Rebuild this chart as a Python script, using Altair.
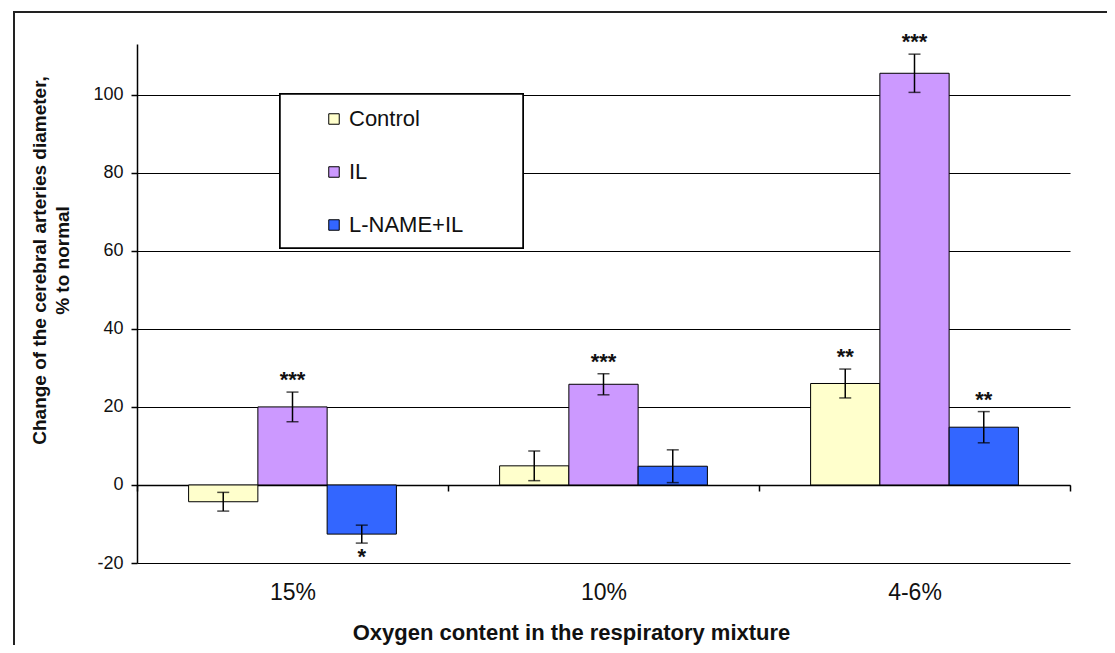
import altair as alt
import pandas as pd

categories = ["15%", "10%", "4-6%"]
groups = ["Control", "IL", "L-NAME+IL"]
control_mean = [-4.3, 4.9, 26.0]
il_mean = [20.0, 25.8, 105.5]
lname_mean = [-12.6, 4.8, 14.8]
control_err = [2.4, 3.8, 3.7]
il_err = [3.8, 2.7, 4.9]
lname_err = [2.3, 4.2, 4.0]
control_stars = ["", "", "**"]
il_stars = ["***", "***", "***"]
lname_stars = ["*", "", "**"]
colors = ["#FFFFCC", "#CC99FF", "#3366FF"]
y_ticks = [-20, 0, 20, 40, 60, 80, 100]

means = [control_mean, il_mean, lname_mean]
errs = [control_err, il_err, lname_err]
stars = [control_stars, il_stars, lname_stars]

rows = []
for gi, g in enumerate(groups):
    for ci, c in enumerate(categories):
        m = means[gi][ci]
        e = errs[gi][ci]
        rows.append({"cat": c, "group": g, "mean": m, "lo": m - e, "hi": m + e,
                     "stars": stars[gi][ci]})
df = pd.DataFrame(rows)

FONT = "Liberation Sans"
W, H = 933, 519

x = alt.X("cat:N", sort=categories,
          scale=alt.Scale(paddingInner=0, paddingOuter=0),
          axis=alt.Axis(title="Oxygen content in the respiratory mixture",
                        orient="bottom", offset=-78, domain=True, domainColor="black",
                        domainWidth=1.5, ticks=True, tickBand="extent", tickColor="black",
                        tickSize=6, tickWidth=1.5, labelAngle=0, labelFontSize=23,
                        labelFont=FONT, labelColor="#111111", labelPadding=90,
                        titleFont=FONT, titleFontSize=22, titleFontWeight="bold",
                        titleColor="#111111", titlePadding=18, titleX=434))
xo = alt.XOffset("group:N", sort=groups,
                 scale=alt.Scale(paddingInner=0, paddingOuter=0.745))
yscale = alt.Scale(domain=[-20, 113], nice=False, zero=False)

base = alt.Chart(df)

bars = base.mark_bar(stroke="black", strokeWidth=1).encode(
    x=x, xOffset=xo,
    y=alt.Y("mean:Q", scale=yscale,
            axis=alt.Axis(values=y_ticks, title=["Change of the cerebral arteries diameter,", "% to normal"],
                          labelExpr="'' + datum.value", grid=True, gridColor="black",
                          gridWidth=1.2, domain=True, domainColor="black", domainWidth=1.5,
                          tickColor="black", tickSize=6, tickWidth=1.5, labelFontSize=18,
                          labelFont=FONT, labelColor="#111111", labelPadding=8,
                          titleFont=FONT, titleFontSize=19, titleFontWeight="bold",
                          titleColor="#111111", titlePadding=20, titleLineHeight=23,
                          titleY=216)),
    color=alt.Color("group:N", sort=groups, scale=alt.Scale(domain=groups, range=colors),
                    legend=alt.Legend(title=None, orient="none", legendX=143, legendY=50,
                                      padding=14,
                                      symbolType="square", symbolSize=110,
                                      symbolStrokeColor="black", symbolStrokeWidth=1,
                                      symbolOffset=29, labelFont=FONT, labelFontSize=22,
                                      labelColor="#111111", rowPadding=31)),
)

# white legend box with black border, drawn over the gridlines
legend_box = base.mark_rect(fill="white", stroke="black", strokeWidth=1.5).encode(
    x=alt.value(143), x2=alt.value(386), y=alt.value(50), y2=alt.value(204))

err_rule = base.mark_rule(color="black", strokeWidth=1.5).encode(
    x=x, xOffset=xo, y=alt.Y("lo:Q", scale=yscale), y2="hi:Q")
cap_lo = base.mark_tick(color="black", thickness=1.5, size=12).encode(
    x=x, xOffset=xo, y=alt.Y("lo:Q", scale=yscale))
cap_hi = base.mark_tick(color="black", thickness=1.5, size=12).encode(
    x=x, xOffset=xo, y=alt.Y("hi:Q", scale=yscale))

stars_pos = base.transform_filter("datum.stars != '' && datum.mean >= 0").mark_text(
    font=FONT, fontSize=22, fontWeight="bold", color="#111111", baseline="alphabetic", dy=-5
).encode(x=x, xOffset=xo, y=alt.Y("hi:Q", scale=yscale), text="stars:N")
stars_neg = base.transform_filter("datum.stars != '' && datum.mean < 0").mark_text(
    font=FONT, fontSize=22, fontWeight="bold", color="#111111", baseline="alphabetic", dy=21
).encode(x=x, xOffset=xo, y=alt.Y("lo:Q", scale=yscale), text="stars:N")

frame_top = base.mark_rule(color="#222222", strokeWidth=2).encode(
    x=alt.value(-124), x2=alt.value(970), y=alt.value(-32))
frame_left = base.mark_rect(fill="#222222", strokeWidth=0).encode(
    x=alt.value(-124), x2=alt.value(-122), y=alt.value(-33), y2=alt.value(610))

chart = alt.layer(frame_top, frame_left, legend_box, bars, err_rule, cap_lo, cap_hi,
                  stars_pos, stars_neg).properties(
    width=W, height=H,
    autosize=alt.AutoSizeParams(type="none"),
    padding={"left": 129, "top": 36, "right": 37, "bottom": 82},
    background="white",
).configure_view(stroke=None)

chart.save("out.html", embed_options={"renderer": "svg", "actions": False})
